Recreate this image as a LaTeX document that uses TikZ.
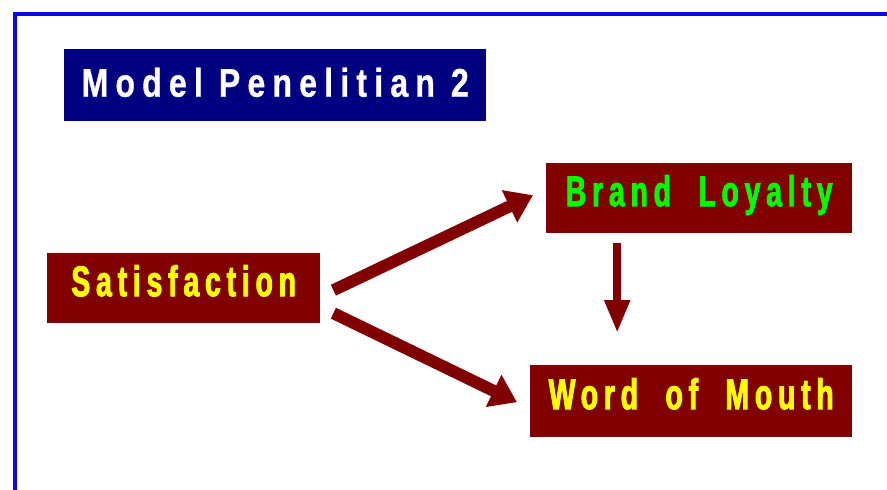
\documentclass[tikz,border=0pt]{standalone}
\usepackage{fontspec}
\newfontfamily\boxfont[LetterSpace=13.5,FakeStretch=0.66,FakeBold=2,WordSpace=2]{Liberation Sans}
\newfontfamily\titlefont[LetterSpace=18,FakeStretch=0.8,FakeBold=0.8]{Liberation Sans}
\usepackage{tikz}
\usetikzlibrary{arrows.meta}

\definecolor{framblue}{RGB}{10,10,225}
\definecolor{titlenavy}{RGB}{0,0,128}
\definecolor{maroonbox}{RGB}{128,0,0}
\definecolor{lightgreen}{RGB}{0,250,0}
\definecolor{brightyellow}{RGB}{255,255,0}

\tikzset{
  varbox/.style={fill=maroonbox, inner sep=0pt, anchor=north west, text height=32pt, text depth=16pt},
  varlabel/.style={font=\boxfont\bfseries\fontsize{43}{43}\selectfont},
  fatarrow/.style={draw=maroonbox, line width=12pt, -{Triangle[length=26pt,width=34pt]}},
  thinarrow/.style={draw=maroonbox, line width=8pt, -{Triangle[length=33pt,width=24pt]}}
}

\begin{document}
\begin{tikzpicture}[x=1pt,y=-1pt]
  \useasboundingbox (0,0) rectangle (887,490);
  \clip (0,0) rectangle (887,490);
  \draw[framblue, line width=4pt] (15,14) rectangle (920,520);

  \node (title) [fill=titlenavy, minimum width=422pt, minimum height=72pt, inner sep=0pt, anchor=north west,
    text height=29pt, text depth=6pt,
    text=white, font=\titlefont\bfseries\fontsize{40}{40}\selectfont] at (64,49) {Model Penelitian 2};

  \node (sat) [varbox, minimum width=273pt, minimum height=70pt, text=brightyellow, varlabel] at (47,253) {Satisfaction};
  \node (brand) [varbox, minimum width=306pt, minimum height=70pt, text=lightgreen, varlabel] at (546,163) {Brand Loyalty};
  \node (wom) [varbox, minimum width=322pt, minimum height=72pt, text=brightyellow, varlabel] at (530,365) {Word of Mouth};

  \path
    ([xshift=13pt,yshift=-2pt]sat.east) edge[fatarrow] ([xshift=-13pt,yshift=3pt]brand.west)
    ([xshift=13pt,yshift=-25pt]sat.east) edge[fatarrow] ([xshift=-13pt,yshift=-1pt]wom.west)
    ([xshift=-82pt,yshift=-10pt]brand.south) edge[thinarrow] ([xshift=-82pt,yshift=32pt]brand.south |- wom.north)
  ;
\end{tikzpicture}
\end{document}
